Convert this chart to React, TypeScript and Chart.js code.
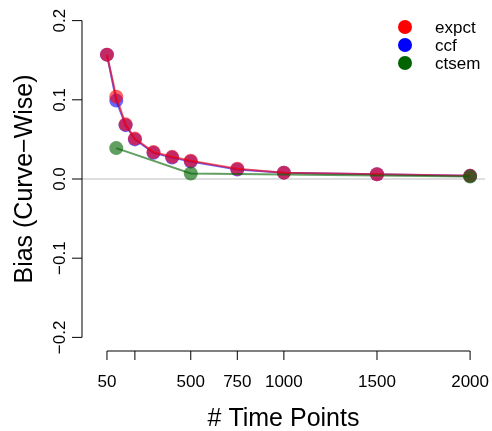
import React, { useEffect, useRef } from "react";
import { Chart, registerables } from "chart.js";

Chart.register(...registerables);

const xValues = [50, 100, 150, 200, 300, 400, 500, 750, 1000, 1500, 2000];
const expct = [0.157, 0.104, 0.069, 0.051, 0.034, 0.028, 0.023, 0.013, 0.008, 0.006, 0.004];
const ccf = [0.157, 0.099, 0.068, 0.050, 0.033, 0.027, 0.022, 0.012, 0.008, 0.006, 0.004];
const ctsemX = [100, 500, 2000];
const ctsem = [0.039, 0.007, 0.003];

const xTicks = [50, 200, 500, 750, 1000, 1500, 2000];
const xTickLabels = ["50", "", "500", "750", "1000", "1500", "2000"];
const yTicks = [-0.2, -0.1, 0, 0.1, 0.2];
const yTickLabels = ["\u22120.2", "\u22120.1", "0.0", "0.1", "0.2"];

const seriesNames = ["expct", "ccf", "ctsem"];
const legendColors = ["#FF0000", "#0000FF", "#006400"];
const seriesColors = ["rgba(255,0,0,0.6)", "rgba(0,0,255,0.6)", "rgba(0,100,0,0.62)"];

const xTitle = "# Time Points";
const yTitle = "Bias (Curve\u2212Wise)";

const FONT = "'Liberation Sans', Arial, Helvetica, sans-serif";

const axesPlugin = {
  id: "rAxes",
  beforeDatasetsDraw(chart: any) {
    const ctx = chart.ctx;
    const { left, right } = chart.chartArea;
    const y0 = chart.scales.y.getPixelForValue(0);
    ctx.save();
    ctx.strokeStyle = "#d3d3d3";
    ctx.lineWidth = 1.5;
    ctx.beginPath();
    ctx.moveTo(left, y0);
    ctx.lineTo(right, y0);
    ctx.stroke();
    ctx.restore();
  },
  afterDraw(chart: any) {
    const ctx = chart.ctx;
    const xs = chart.scales.x;
    const ys = chart.scales.y;
    const { left, right, top, bottom } = chart.chartArea;
    ctx.save();
    ctx.strokeStyle = "#000";
    ctx.fillStyle = "#000";
    ctx.lineWidth = 1;

    // y axis
    const yTop = ys.getPixelForValue(yTicks[yTicks.length - 1]);
    const yBot = ys.getPixelForValue(yTicks[0]);
    ctx.beginPath();
    ctx.moveTo(left, yTop);
    ctx.lineTo(left, yBot);
    yTicks.forEach((v) => {
      const p = ys.getPixelForValue(v);
      ctx.moveTo(left, p);
      ctx.lineTo(left - 10, p);
    });
    ctx.stroke();

    ctx.font = `17px ${FONT}`;
    ctx.textAlign = "center";
    ctx.textBaseline = "alphabetic";
    yTicks.forEach((v, i) => {
      const p = ys.getPixelForValue(v);
      ctx.save();
      ctx.translate(65, p);
      ctx.rotate(-Math.PI / 2);
      ctx.fillText(yTickLabels[i], 0, 0);
      ctx.restore();
    });

    // x axis
    const xL = xs.getPixelForValue(xTicks[0]);
    const xR = xs.getPixelForValue(xTicks[xTicks.length - 1]);
    ctx.beginPath();
    ctx.moveTo(xL, bottom);
    ctx.lineTo(xR, bottom);
    xTicks.forEach((v) => {
      const p = xs.getPixelForValue(v);
      ctx.moveTo(p, bottom);
      ctx.lineTo(p, bottom + 9);
    });
    ctx.stroke();
    xTicks.forEach((v, i) => {
      const p = xs.getPixelForValue(v);
      if (xTickLabels[i]) ctx.fillText(xTickLabels[i], p, 387);
    });

    // titles
    ctx.font = `25px ${FONT}`;
    ctx.fillText(xTitle, (left + right) / 2, 426);
    ctx.save();
    ctx.translate(31.5, (top + bottom) / 2);
    ctx.rotate(-Math.PI / 2);
    ctx.fillText(yTitle, 0, 0);
    ctx.restore();

    // legend
    ctx.font = `17px ${FONT}`;
    ctx.textAlign = "left";
    ctx.textBaseline = "middle";
    seriesNames.forEach((name, i) => {
      const cy = 27 + i * 18;
      ctx.fillStyle = legendColors[i];
      ctx.beginPath();
      ctx.arc(405, cy, 7, 0, Math.PI * 2);
      ctx.fill();
      ctx.fillStyle = "#000";
      ctx.fillText(name, 435, cy + 1);
    });
    ctx.restore();
  },
};

export default function App() {
  const ref = useRef<HTMLCanvasElement | null>(null);
  useEffect(() => {
    if (!ref.current) return;
    const mk = (xs: number[], ys: number[]) => xs.map((x, i) => ({ x, y: ys[i] }));
    const ds = (i: number, data: any[], order: number) => ({
      label: seriesNames[i],
      data,
      showLine: true,
      borderColor: seriesColors[i],
      backgroundColor: seriesColors[i],
      pointBackgroundColor: seriesColors[i],
      pointBorderWidth: 0,
      pointRadius: 7,
      borderWidth: 2,
      order,
    });
    const chart = new Chart(ref.current, {
      type: "scatter",
      data: {
        datasets: [
          ds(0, mk(xValues, expct), 2),
          ds(1, mk(xValues, ccf), 3),
          ds(2, mk(ctsemX, ctsem), 1),
        ],
      },
      options: {
        responsive: false,
        animation: false,
        layout: { padding: { left: 82, top: 5, right: 5, bottom: 80 } },
        scales: {
          x: { type: "linear", display: false, min: -84, max: 2080 },
          y: { type: "linear", display: false, min: -0.2172, max: 0.2172 },
        },
        plugins: { legend: { display: false }, tooltip: { enabled: false } },
      },
      plugins: [axesPlugin],
    } as any);
    return () => chart.destroy();
  }, []);
  return (
    <div style={{ position: "absolute", left: 0, top: 0, width: 492, height: 431, background: "#fff" }}>
      <canvas ref={ref} width={492} height={431} />
    </div>
  );
}
